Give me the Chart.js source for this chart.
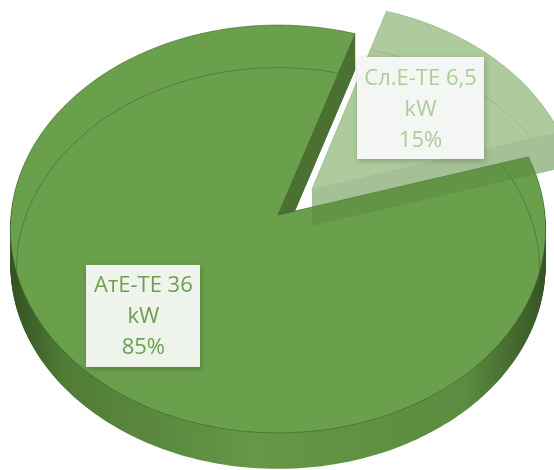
<!DOCTYPE html>
<html>
<head>
<meta charset="utf-8">
<script src="https://cdn.jsdelivr.net/npm/chart.js@4.4.0/dist/chart.umd.min.js"></script>
<style>
  html, body { margin: 0; padding: 0; background: #fff; }
</style>
</head>
<body>
<canvas id="pieChart" width="554" height="470"></canvas>
<script>
// data
const sources = ['АтЕ-ТЕ', 'Сл.Е-ТЕ'];
const powerKw = [36, 6.5];
const unit = 'kW';

// look of the 3d pie (perspective tilt + thickness)
const TILT = 0.76;
const PERSP = 0.0686;
const DEPTH = 36;
const topColors = ['rgb(106,160,76)', 'rgb(106,160,76)'];
const wallColors = ['rgb(74,113,50)', 'rgb(92,140,64)'];
const labelPlace = [{ frac: 0.684, shift: 0 }, { frac: 0.597, shift: 0 }];
const labelStyle = [
    { text: 'rgb(108,160,80)', box: 'rgb(238,243,235)' },
    { text: 'rgb(172,204,152)', box: 'rgb(243,246,242)' }
];

function explode(arc) {
    const off = (arc.options.offset || 0) / 4;
    const mid = (arc.startAngle + arc.endAngle) / 2;
    return { dx: Math.cos(mid) * off, dy: Math.sin(mid) * off };
}

// chart-space point -> screen point seen in perspective
function project(arc, px, py) {
    const v = (py - arc.y) / arc.outerRadius;
    const w = 1 - PERSP * v;
    return { x: arc.x + (px - arc.x) / w, y: arc.y + TILT * (py - arc.y) / w };
}

function slicePoints(arc) {
    const e = explode(arc);
    const cx = arc.x + e.dx, cy = arc.y + e.dy, R = arc.outerRadius;
    const pts = [project(arc, cx, cy)];
    const n = Math.max(8, Math.ceil((arc.endAngle - arc.startAngle) / 0.02));
    for (let i = 0; i <= n; i++) {
        const a = arc.startAngle + (arc.endAngle - arc.startAngle) * i / n;
        pts.push(project(arc, cx + Math.cos(a) * R, cy + Math.sin(a) * R));
    }
    return pts;
}

function polyPath(c, pts) {
    c.beginPath();
    pts.forEach((p, i) => i ? c.lineTo(p.x, p.y) : c.moveTo(p.x, p.y));
    c.closePath();
}

function sideGradient(c, arc) {
    const g = c.createLinearGradient(arc.x - arc.outerRadius, 0, arc.x + arc.outerRadius, 0);
    g.addColorStop(0, 'rgb(52,82,34)');
    g.addColorStop(0.1, 'rgb(80,124,54)');
    g.addColorStop(0.45, 'rgb(100,151,70)');
    g.addColorStop(0.85, 'rgb(92,140,63)');
    g.addColorStop(1, 'rgb(54,84,36)');
    return g;
}

function drawWall(c, arc, a, b, angle, normalSign, color) {
    // only walls turned toward the viewer
    if (Math.sin(angle + normalSign * Math.PI / 2) <= 0) return;
    c.beginPath();
    c.moveTo(a.x, a.y);
    c.lineTo(b.x, b.y);
    c.lineTo(b.x, b.y + DEPTH);
    c.lineTo(a.x, a.y + DEPTH);
    c.closePath();
    c.fillStyle = color;
    c.fill();
}

// faint bevel line on the top face
function bevelLine(c, arc, color) {
    const e = explode(arc);
    const R = arc.outerRadius;
    const pts = [];
    for (let i = 0; i <= 360; i++) {
        const a = i * Math.PI / 180;
        pts.push(project(arc, arc.x + e.dx + Math.cos(a) * R * 0.964,
            arc.y + e.dy + (0.2 + Math.sin(a) * 0.964) * R));
    }
    c.beginPath();
    pts.forEach((p, i) => i ? c.lineTo(p.x, p.y) : c.moveTo(p.x, p.y));
    c.strokeStyle = color;
    c.lineWidth = 1;
    c.stroke();
}

function drawSlice(c, arc, side, wall, edge) {
    const pts = slicePoints(arc);
    for (let d = DEPTH; d > 0; d--) {
        c.save();
        c.translate(0, d);
        polyPath(c, pts);
        c.fillStyle = side;
        c.fill();
        c.restore();
    }
    drawWall(c, arc, pts[0], pts[pts.length - 1], arc.endAngle, 1, wall);
    drawWall(c, arc, pts[0], pts[1], arc.startAngle, -1, wall);
    polyPath(c, pts);
    c.fillStyle = arc.options.backgroundColor;
    c.fill();
    c.save();
    polyPath(c, pts);
    c.clip();
    bevelLine(c, arc, 'rgba(62,100,40,0.55)');
    c.restore();
    polyPath(c, pts);
    c.strokeStyle = edge;
    c.lineWidth = 1;
    c.stroke();
}

const pie3d = {
    id: 'pie3d',
    beforeDatasetsDraw(chart) {
        const ctx = chart.ctx;
        const arcs = chart.getDatasetMeta(0).data;
        // big slice, solid
        ctx.save();
        drawSlice(ctx, arcs[0], sideGradient(ctx, arcs[0]), wallColors[0], 'rgba(60,98,40,0.6)');
        ctx.restore();
        // pulled-out slice, see-through
        const off = document.createElement('canvas');
        off.width = chart.width;
        off.height = chart.height;
        const oc = off.getContext('2d');
        drawSlice(oc, arcs[1], wallColors[1], wallColors[1], 'rgb(88,138,60)');
        ctx.save();
        ctx.globalAlpha = 0.55;
        ctx.drawImage(off, 0, 0, chart.width, chart.height);
        ctx.restore();
        return false;
    },
    afterDraw(chart) {
        const ctx = chart.ctx;
        const arcs = chart.getDatasetMeta(0).data;
        const total = powerKw.reduce((a, b) => a + b, 0);
        ctx.save();
        ctx.font = '22px "Open Sans"';
        ctx.textAlign = 'center';
        ctx.textBaseline = 'middle';
        arcs.forEach((arc, i) => {
            const e = explode(arc);
            const p = labelPlace[i];
            const ang = (arc.startAngle + arc.endAngle) / 2 + p.shift * Math.PI / 180;
            const pt = project(arc,
                arc.x + e.dx + Math.cos(ang) * arc.outerRadius * p.frac,
                arc.y + e.dy + Math.sin(ang) * arc.outerRadius * p.frac);
            const lines = [
                sources[i] + ' ' + String(powerKw[i]).replace('.', ','),
                unit,
                Math.round(powerKw[i] / total * 100) + '%'
            ];
            const lh = 31;
            const w = Math.max(...lines.map(t => ctx.measureText(t).width)) + 15;
            const h = lines.length * lh + 9;
            ctx.save();
            ctx.shadowColor = 'rgba(0,0,0,0.22)';
            ctx.shadowBlur = 6;
            ctx.shadowOffsetX = 1;
            ctx.shadowOffsetY = 2;
            ctx.fillStyle = labelStyle[i].box;
            ctx.fillRect(Math.round(pt.x - w / 2), Math.round(pt.y - h / 2), Math.round(w), h);
            ctx.restore();
            ctx.fillStyle = labelStyle[i].text;
            lines.forEach((t, k) => {
                ctx.fillText(t, pt.x, pt.y - h / 2 + 4.5 + lh * (k + 0.5) + 1);
            });
        });
        ctx.restore();
    }
};

new Chart(document.getElementById('pieChart'), {
    type: 'pie',
    data: {
        labels: sources,
        datasets: [{
            data: powerKw,
            backgroundColor: topColors,
            borderWidth: 0,
            offset: [0, 192],
            clip: false
        }]
    },
    options: {
        responsive: false,
        animation: false,
        events: [],
        rotation: 73,
        radius: 267,
        layout: { padding: { left: 2, right: 0, top: 0, bottom: 40 } },
        plugins: {
            legend: { display: false },
            tooltip: { enabled: false }
        }
    },
    plugins: [pie3d]
});
</script>
</body>
</html>
